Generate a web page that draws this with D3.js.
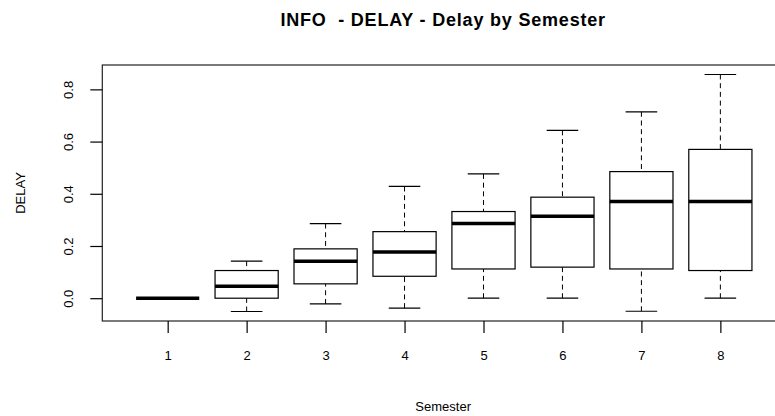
<!DOCTYPE html>
<html>
<head>
<meta charset="utf-8">
<script src="https://cdn.jsdelivr.net/npm/d3@7"></script>
<style>
  html, body { margin: 0; padding: 0; background: #fff; }
  svg { display: block; }
  text { font-family: "Liberation Sans", Arial, Helvetica, sans-serif; fill: #000; }
</style>
</head>
<body>
<svg id="chart" width="775" height="416"></svg>
<script>
// Semesters and five-number summaries of DELAY per semester
const semesters   = [1, 2, 3, 4, 5, 6, 7, 8];
const whiskerLow  = [0, -0.051, -0.022, -0.038, 0.000, 0.000, -0.050, 0.000];
const lowerQuart  = [0,  0.000,  0.055,  0.084, 0.112, 0.119,  0.112, 0.106];
const medians     = [0,  0.046,  0.142,  0.177, 0.286, 0.314,  0.370, 0.370];
const upperQuart  = [0,  0.106,  0.189,  0.255, 0.332, 0.387,  0.485, 0.570];
const whiskerHigh = [0,  0.142,  0.286,  0.428, 0.476, 0.643,  0.714, 0.857];
const yTicks      = [0.0, 0.2, 0.4, 0.6, 0.8];

const titleText = "INFO  - DELAY - Delay by Semester";
const xTitle = "Semester";
const yTitle = "DELAY";

const svg = d3.select("#chart");

// plotting region
const plot = { left: 102.3, right: 784, top: 65, bottom: 321 };

// x: semester index; y: delay, padded 4% beyond the data range
const x = d3.scaleLinear().domain([0.172, 8.806]).range([plot.left, plot.right]);
const yMin = d3.min(whiskerLow), yMax = d3.max(whiskerHigh);
const pad = (yMax - yMin) * 0.04;
const y = d3.scaleLinear().domain([yMin - pad, yMax + pad]).range([plot.bottom, plot.top]);

const boxW = x(1.4) - x(1);      // half box width (0.8 units total)
const capW = boxW / 2;           // half staple width

const stats = semesters.map((s, i) => ({
  s, lo: whiskerLow[i], q1: lowerQuart[i], med: medians[i], q3: upperQuart[i], hi: whiskerHigh[i]
}));

const g = svg.append("g");

const boxes = g.selectAll("g.box").data(stats).join("g").attr("class", "box");

// dashed whiskers, drawn from the whisker end toward the box
boxes.append("line")
  .attr("x1", d => x(d.s)).attr("x2", d => x(d.s))
  .attr("y1", d => y(d.lo)).attr("y2", d => y(d.q1))
  .attr("stroke", "#000").attr("stroke-width", 1).attr("stroke-dasharray", "5,3.7");
boxes.append("line")
  .attr("x1", d => x(d.s)).attr("x2", d => x(d.s))
  .attr("y1", d => y(d.hi)).attr("y2", d => y(d.q3))
  .attr("stroke", "#000").attr("stroke-width", 1).attr("stroke-dasharray", "5,3.7");

// staples
boxes.append("line")
  .attr("x1", d => x(d.s) - capW).attr("x2", d => x(d.s) + capW)
  .attr("y1", d => y(d.lo)).attr("y2", d => y(d.lo))
  .attr("stroke", "#000").attr("stroke-width", 1.2);
boxes.append("line")
  .attr("x1", d => x(d.s) - capW).attr("x2", d => x(d.s) + capW)
  .attr("y1", d => y(d.hi)).attr("y2", d => y(d.hi))
  .attr("stroke", "#000").attr("stroke-width", 1.2);

// boxes
boxes.append("rect")
  .attr("x", d => x(d.s) - boxW)
  .attr("width", 2 * boxW)
  .attr("y", d => y(d.q3))
  .attr("height", d => y(d.q1) - y(d.q3))
  .attr("fill", "#fff").attr("stroke", "#000").attr("stroke-width", 1.2);

// medians
boxes.append("line")
  .attr("x1", d => x(d.s) - boxW).attr("x2", d => x(d.s) + boxW)
  .attr("y1", d => y(d.med)).attr("y2", d => y(d.med))
  .attr("stroke", "#000").attr("stroke-width", 3.5);

// frame
svg.append("rect")
  .attr("x", plot.left).attr("y", plot.top)
  .attr("width", plot.right - plot.left).attr("height", plot.bottom - plot.top)
  .attr("fill", "none").attr("stroke", "#222").attr("stroke-width", 1.2);

// x axis
const xAxis = svg.append("g")
  .attr("transform", `translate(0,${plot.bottom})`)
  .call(d3.axisBottom(x).tickValues(semesters).tickFormat(d3.format("d")).tickSize(12).tickPadding(0));
xAxis.select(".domain").remove();
xAxis.selectAll(".tick line").attr("stroke", "#000").attr("stroke-width", 1.2);
xAxis.selectAll(".tick text")
  .attr("y", 38.5).attr("dy", null)
  .style("font-size", "13px").style("font-family", "'Liberation Sans', Arial, sans-serif").attr("fill", "#000");

// y axis with rotated labels
const yAxis = svg.append("g")
  .attr("transform", `translate(${plot.left},0)`)
  .call(d3.axisLeft(y).tickValues(yTicks).tickFormat(d3.format(".1f")).tickSize(12));
yAxis.select(".domain").remove();
yAxis.selectAll(".tick line").attr("stroke", "#000").attr("stroke-width", 1.2);
yAxis.selectAll(".tick text")
  .attr("x", null).attr("dy", null)
  .attr("transform", "translate(-29.6,0) rotate(-90)")
  .attr("text-anchor", "middle")
  .style("font-size", "13px").style("font-family", "'Liberation Sans', Arial, sans-serif").attr("fill", "#000");

// titles
svg.append("text")
  .attr("x", (plot.left + plot.right) / 2).attr("y", 26)
  .attr("text-anchor", "middle")
  .style("font-size", "18px").style("font-weight", "bold").style("white-space", "pre")
  .style("letter-spacing", "0.8px")
  .text(titleText);

svg.append("text")
  .attr("x", (plot.left + plot.right) / 2).attr("y", 411)
  .attr("text-anchor", "middle")
  .style("font-size", "13px")
  .text(xTitle);

svg.append("text")
  .attr("transform", `translate(25,${(plot.top + plot.bottom) / 2}) rotate(-90)`)
  .attr("text-anchor", "middle")
  .style("font-size", "13px")
  .text(yTitle);
</script>
</body>
</html>
